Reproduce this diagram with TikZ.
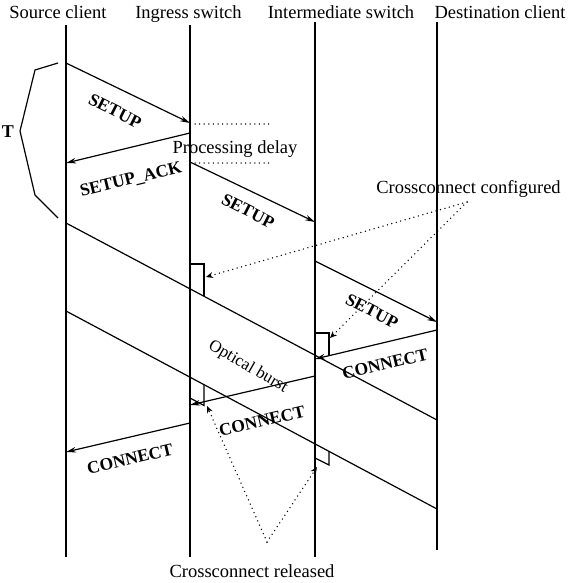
\documentclass[tikz,border=0pt]{standalone}
\usepackage{fontspec}
\setmainfont{Liberation Serif}
\usetikzlibrary{arrows.meta}
\begin{document}
\begin{tikzpicture}[x=1pt,y=-1pt,
  life/.style={line width=1.2pt},
  msg/.style={line width=1.2pt,-{Stealth[length=10pt,width=5.5pt]}},
  plain/.style={line width=1.2pt},
  hdr/.style={font=\fontsize{18.5}{20}\selectfont,inner sep=0pt,anchor=base},
  lbl/.style={font=\fontsize{17.5}{19}\selectfont\bfseries,inner sep=0pt},
  note/.style={line width=1.5pt,dash pattern=on 0pt off 4.6pt,line cap=round,
    -{Stealth[open,length=7pt,width=6pt,line cap=butt]}},
  delay/.style={line width=1.5pt,dash pattern=on 0pt off 4.6pt,line cap=round}]
\useasboundingbox (0,0) rectangle (568,583);

% headers
\node[hdr] (hs) at (58,19) {Source client};
\node[hdr] (hi) at (188.5,19) {Ingress switch};
\node[hdr] (hm) at (341,19) {Intermediate switch};
\node[hdr] (hd) at (500,19) {Destination client};

% lifelines
\coordinate (sT) at (66,25);  \coordinate (sB) at (66,557);
\coordinate (iT) at (190,25); \coordinate (iB) at (190,557);
\coordinate (mT) at (315,22); \coordinate (mB) at (315,557);
\coordinate (dT) at (437,22); \coordinate (dB) at (437,550);
\draw[life] (sT) -- (sB);
\draw[life] (iT) -- (iB);
\draw[life] (mT) -- (mB);
\draw[life] (dT) -- (dB);

% T bracket
\coordinate (b1) at (58,63); \coordinate (b2) at (35,70); \coordinate (b3) at (20,131);
\coordinate (b4) at (35,195); \coordinate (b5) at (58,218);
\draw[plain] (b1) -- (b2) -- (b3) -- (b4) -- (b5);
\node[font=\fontsize{18}{20}\selectfont\bfseries,inner sep=0pt] (T) at (8,132) {T};

% messages
\coordinate (m1a) at (66,63);   \coordinate (m1b) at (190,123);
\coordinate (m2a) at (190,133); \coordinate (m2b) at (66,163);
\coordinate (m3a) at (190,162); \coordinate (m3b) at (315,222);
\coordinate (m4a) at (315,261); \coordinate (m4b) at (437,322);
\coordinate (c1a) at (437,330); \coordinate (c1b) at (315,359);
\coordinate (c2a) at (315,376); \coordinate (c2b) at (190,405);
\coordinate (c3a) at (190,423); \coordinate (c3b) at (66,452);
\draw[msg] (m1a) -- (m1b);
\draw[msg] (m2a) -- (m2b);
\draw[msg] (m3a) -- (m3b);
\draw[msg] (m4a) -- (m4b);
\draw[msg] (c1a) -- (c1b);
\draw[msg] (c2a) -- (c2b);
\draw[msg] (c3a) -- (c3b);

\node[lbl,rotate=-27] (l1) at (115,111) {SETUP};
\node[lbl,rotate=13.6] (l2) at (131,180) {SETUP\_ACK};
\node[lbl,rotate=-27] (l3) at (248,211) {SETUP};
\node[lbl,rotate=-27.5] (l4) at (372,311) {SETUP};
\node[lbl,rotate=13.4] (l5) at (385,364) {CONNECT};
\node[lbl,rotate=13] (l6) at (262,421) {CONNECT};
\node[lbl,rotate=13.2] (l7) at (130,459) {CONNECT};

% processing delay
\coordinate (pd1a) at (195,124); \coordinate (pd1b) at (272,124);
\coordinate (pd2a) at (195,163); \coordinate (pd2b) at (272,163);
\draw[delay] (pd1a) -- (pd1b);
\draw[delay] (pd2a) -- (pd2b);
\node[hdr] (pd) at (235,153) {Processing delay};

% optical burst
\coordinate (ob1a) at (66,223); \coordinate (ob1b) at (437,420);
\coordinate (ob2a) at (66,311); \coordinate (ob2b) at (437,509);
\draw[plain] (ob1a) -- (ob1b);
\draw[plain] (ob2a) -- (ob2b);
\node[font=\fontsize{17}{19}\selectfont,inner sep=0pt,rotate=-30] (ob) at (248,367) {Optical burst};

% crossconnect boxes
\coordinate (x1a) at (190,264); \coordinate (x1b) at (204,264); \coordinate (x1c) at (204,296);
\draw[plain] (x1a) -- (x1b) -- (x1c);
\coordinate (x2a) at (315,333); \coordinate (x2b) at (329,333); \coordinate (x2c) at (329,356);
\draw[plain] (x2a) -- (x2b) -- (x2c);
\coordinate (r1a) at (204,385); \coordinate (r1b) at (204,405.5); \coordinate (r1c) at (190,398);
\draw[plain] (r1a) -- (r1b) -- (r1c);
\coordinate (r2a) at (329,451); \coordinate (r2b) at (329,465); \coordinate (r2c) at (315,458);
\draw[plain] (r2a) -- (r2b) -- (r2c);

% annotations
\node[hdr] (cc) at (468.5,193) {Crossconnect configured};
\coordinate (ccv) at (467,202);
\coordinate (ccA) at (206,277); \coordinate (ccB) at (330,338);
\draw[note] (ccv) -- (ccA);
\draw[note] (ccv) -- (ccB);

\node[hdr] (cr) at (252,577) {Crossconnect released};
\coordinate (crv) at (267,542);
\coordinate (crA) at (207,406); \coordinate (crB) at (317,467);
\draw[note] (crv) -- (crA);
\draw[note] (crv) -- (crB);
\end{tikzpicture}
\end{document}
